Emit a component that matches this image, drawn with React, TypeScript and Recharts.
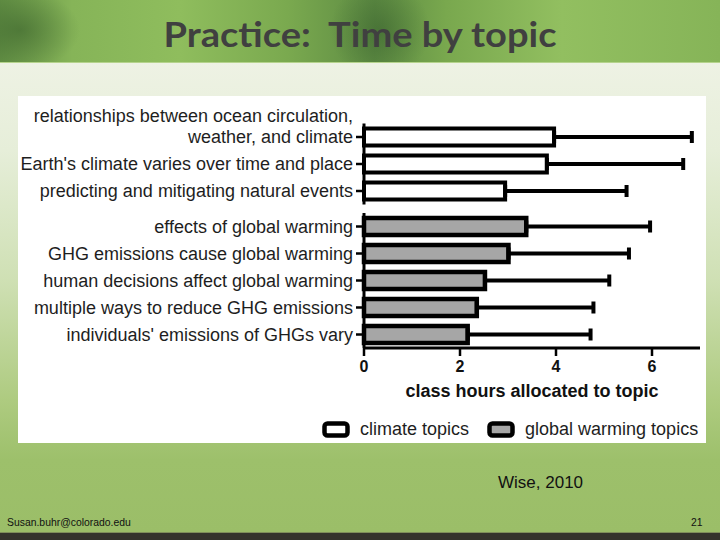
import React from 'react';
import { BarChart, Bar, XAxis, YAxis, ErrorBar, Legend } from 'recharts';

const climateTopics = [
  'relationships between ocean circulation,\nweather, and climate',
  "Earth's climate varies over time and place",
  'predicting and mitigating natural events',
];
const climateHours = [3.96, 3.81, 2.94];
const climateErr = [2.87, 2.84, 2.53];

const warmingTopics = [
  'effects of global warming',
  'GHG emissions cause global warming',
  'human decisions affect global warming',
  'multiple ways to reduce GHG emissions',
  "individuals' emissions of GHGs vary",
];
const warmingHours = [3.38, 3.01, 2.52, 2.35, 2.16];
const warmingErr = [2.58, 2.51, 2.59, 2.43, 2.56];

const xTicks = [0, 2, 4, 6];
const seriesNames = ['climate topics', 'global warming topics'];
const xAxisTitle = 'class hours allocated to topic';

const climateData = climateTopics.map((t, i) => ({ topic: t, hours: climateHours[i], err: [0, climateErr[i]] }));
const warmingData = warmingTopics.map((t, i) => ({ topic: t, hours: warmingHours[i], err: [0, warmingErr[i]] }));

const FONT = '"Liberation Sans", Arial, sans-serif';
const GRAY = '#a6a6a6';

const TopicTick = (props: any) => {
  const { x, y, payload } = props;
  const lines = String(payload.value).split('\n');
  const n = lines.length;
  return (
    <text x={x} y={y} textAnchor="end" fill="#1e1e1e" fontSize={18} fontFamily={FONT}>
      {lines.map((l, i) => (
        <tspan key={i} x={x} dy={i === 0 ? `${0.35 - (n - 1) * 1.2}em` : '1.2em'}>
          {l}
        </tspan>
      ))}
    </text>
  );
};

const Swatch = ({ fill }: { fill: string }) => (
  <svg width={28} height={17} style={{ display: 'block' }}>
    <rect x={2.5} y={2.5} width={23} height={12} rx={3} ry={3} fill={fill} stroke="#000" strokeWidth={4.5} />
  </svg>
);

const renderLegend = () => (
  <div style={{ display: 'flex', alignItems: 'center', paddingLeft: 304, height: 20, fontFamily: FONT, fontSize: 18, color: '#1e1e1e' }}>
    <Swatch fill="#ffffff" />
    <span style={{ marginLeft: 10, marginRight: 18, whiteSpace: 'nowrap' }}>{seriesNames[0]}</span>
    <Swatch fill={GRAY} />
    <span style={{ marginLeft: 10, whiteSpace: 'nowrap' }}>{seriesNames[1]}</span>
  </div>
);

const axisLine = { stroke: '#000', strokeWidth: 3 };
const tickLine = { stroke: '#000', strokeWidth: 2.5 };

export default function App() {
  return (
    <div
      style={{
        position: 'absolute',
        left: 0,
        top: 0,
        width: 720,
        height: 540,
        overflow: 'hidden',
        background:
          'linear-gradient(180deg, #eef2e4 62px, #e6eed9 150px, #cfe0b4 280px, #aecb80 400px, #9dc06b 460px, #9bbe68 532px)',
      }}
    >
      {/* banner */}
      <div
        style={{
          position: 'absolute',
          left: 0,
          top: 0,
          width: 720,
          height: 62,
          background:
            'radial-gradient(ellipse 60px 40px at 20px 30px, rgba(60,100,45,0.6), rgba(60,100,45,0) 100%), radial-gradient(ellipse 50px 50px at 380px 30px, rgba(55,95,45,0.55), rgba(55,95,45,0) 100%), linear-gradient(90deg, #628f44 0%, #86b458 10%, #8fbd5d 25%, #7aa94f 40%, #5e8c43 52%, #79a84e 62%, #92bf60 78%, #86b458 100%)',
          borderBottom: '1px solid #b5d38c',
        }}
      />
      <svg style={{ position: 'absolute', left: 0, top: 0 }} width={720} height={62}>
        <text
          x={360}
          y={47}
          textAnchor="middle"
          fontFamily="Lato, 'Open Sans', sans-serif"
          fontWeight="bold"
          fontSize={35}
          fill="#404040"
          textLength={393}
          lengthAdjust="spacingAndGlyphs"
          style={{ whiteSpace: 'pre' }}
        >
          Practice:  Time by topic
        </text>
      </svg>

      {/* white panel */}
      <div style={{ position: 'absolute', left: 18, top: 96, width: 688, height: 347, background: '#ffffff' }} />

      {/* climate topics chart */}
      <div style={{ position: 'absolute', left: 18, top: 96 }}>
        <BarChart
          width={688}
          height={110}
          data={climateData}
          layout="vertical"
          margin={{ top: 27.5, right: 6, bottom: 1.5, left: 0 }}
          barCategoryGap={0}
        >
          <XAxis type="number" domain={[0, 7]} hide />
          <YAxis
            type="category"
            dataKey="topic"
            width={346}
            tick={<TopicTick />}
            tickSize={8}
            tickMargin={3}
            axisLine={axisLine}
            tickLine={tickLine}
            interval={0}
          />
          <Bar dataKey="hours" barSize={17} fill="#ffffff" stroke="#000" strokeWidth={4} isAnimationActive={false}>
            <ErrorBar dataKey="err" direction="x" width={6} stroke="#000" strokeWidth={4} isAnimationActive={false} />
          </Bar>
        </BarChart>
      </div>

      {/* global warming topics chart */}
      <div style={{ position: 'absolute', left: 18, top: 205 }}>
        <BarChart
          width={688}
          height={238}
          data={warmingData}
          layout="vertical"
          margin={{ top: 8, right: 6, bottom: 4, left: 0 }}
          barCategoryGap={0}
        >
          <XAxis
            type="number"
            domain={[0, 7]}
            ticks={xTicks}
            tickSize={8}
            tickMargin={5}
            height={71}
            axisLine={axisLine}
            tickLine={tickLine}
            tick={{ fill: '#111', fontSize: 16, fontWeight: 'bold', fontFamily: FONT }}
            label={{
              value: xAxisTitle,
              position: 'insideTop',
              offset: 36,
              fill: '#111',
              fontSize: 18,
              fontWeight: 'bold',
              fontFamily: FONT,
            }}
          />
          <YAxis
            type="category"
            dataKey="topic"
            width={346}
            tick={<TopicTick />}
            tickSize={8}
            tickMargin={3}
            axisLine={axisLine}
            tickLine={tickLine}
            interval={0}
          />
          <Legend
            verticalAlign="bottom"
            height={20}
            content={renderLegend}
            wrapperStyle={{ left: 0, top: 214, width: 688, height: 20 }}
          />
          <Bar dataKey="hours" barSize={17} fill={GRAY} stroke="#000" strokeWidth={4.5} isAnimationActive={false}>
            <ErrorBar dataKey="err" direction="x" width={6} stroke="#000" strokeWidth={4} isAnimationActive={false} />
          </Bar>
        </BarChart>
      </div>

      {/* footer */}
      <div style={{ position: 'absolute', left: 498, top: 473, fontFamily: FONT, fontSize: 17, color: '#111' }}>Wise, 2010</div>
      <div style={{ position: 'absolute', left: 7, top: 517, fontFamily: FONT, fontSize: 10.4, color: '#111' }}>
        Susan.buhr@colorado.edu
      </div>
      <div style={{ position: 'absolute', left: 691, top: 517, fontFamily: FONT, fontSize: 10.4, color: '#111' }}>21</div>
      <div style={{ position: 'absolute', left: 0, top: 532, width: 720, height: 1, background: '#7f8f5a' }} />
      <div style={{ position: 'absolute', left: 0, top: 533, width: 720, height: 7, background: '#34342c' }} />
    </div>
  );
}
